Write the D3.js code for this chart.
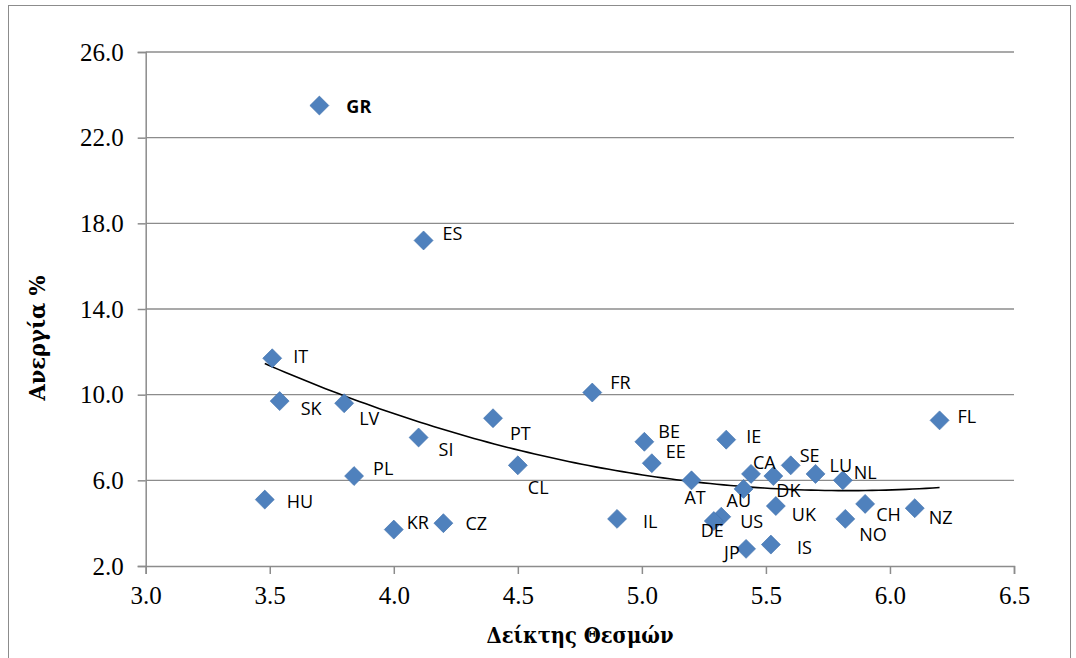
<!DOCTYPE html>
<html>
<head>
<meta charset="utf-8">
<script src="https://cdn.jsdelivr.net/npm/d3@7"></script>
<style>
html,body{margin:0;padding:0;background:#fff;}
svg{display:block;}
</style>
</head>
<body>
<svg id="chart" width="1076" height="658"></svg>
<script>
// ---- data ----
const countries = ["GR","ES","IT","SK","LV","SI","PT","CL","PL","HU","KR","CZ","FR","IL","BE","EE","IE","AT","CA","AU","DK","SE","LU","NL","UK","US","DE","JP","IS","CH","NO","NZ","FL"];
const institutionIndex = [3.70,4.12,3.51,3.54,3.80,4.10,4.40,4.50,3.84,3.48,4.00,4.20,4.80,4.90,5.01,5.04,5.34,5.20,5.44,5.41,5.53,5.60,5.70,5.81,5.54,5.32,5.29,5.42,5.52,5.90,5.82,6.10,6.20];
const unemployment = [23.5,17.2,11.7,9.7,9.6,8.0,8.9,6.7,6.2,5.1,3.7,4.0,10.1,4.2,7.8,6.8,7.9,6.0,6.3,5.6,6.2,6.7,6.3,6.0,4.8,4.3,4.1,2.8,3.0,4.9,4.2,4.7,8.8];
const xTicks = [3.0,3.5,4.0,4.5,5.0,5.5,6.0,6.5];
const yTicks = [2.0,6.0,10.0,14.0,18.0,22.0,26.0];
const xTitle = "Δείκτης Θεσμών";
const yTitle = "Ανεργία %";
const boldLabels = ["GR"];
// label placement relative to marker (pixels)
const labelOffset = {
  GR:[27,0], ES:[19,-7], IT:[21,-2], SK:[21,7], LV:[15,15], SI:[20,11], PT:[17,15], CL:[10,22],
  PL:[19,-8], HU:[22,1], KR:[13,-8], CZ:[22,0], FR:[18,-11], IL:[26,2], BE:[14,-11], EE:[14,-12],
  IE:[20,-4], AT:[-7,17], CA:[2,-12], AU:[-17,11], DK:[3,14], SE:[9,-10], LU:[14,-9], NL:[11,-8],
  UK:[16,8], US:[19,4], DE:[-13,9], JP:[-22,3], IS:[26,2], CH:[11,10], NO:[14,15], NZ:[14,9], FL:[18,-4]
};

// ---- layout ----
const svg = d3.select("#chart");
const L = 145.7, R = 1014, T = 52, B = 566;
const x = d3.scaleLinear().domain([3.0, 6.5]).range([L, R]);
const y = d3.scaleLinear().domain([2.0, 26.0]).range([B, T]);
const gridColor = "#8c8c8c";
const serif = "'Liberation Serif','Times New Roman',serif";
const titleSerif = "'DejaVu Serif','Liberation Serif',serif";

// outer frame
svg.append("rect").attr("x", 8.5).attr("y", 5.5).attr("width", 1062).attr("height", 660)
  .attr("fill", "#fff").attr("stroke", "#8c8c8c").attr("stroke-width", 1);

// gridlines
svg.append("g").selectAll("line").data(yTicks.filter(d => d > 2)).join("line")
  .attr("x1", L).attr("x2", R).attr("y1", d => y(d)).attr("y2", d => y(d))
  .attr("stroke", gridColor).attr("stroke-width", 1.3);

// axes
const yAxis = svg.append("g").attr("transform", `translate(${L},0)`)
  .call(d3.axisLeft(y).tickValues(yTicks).tickFormat(d3.format(".1f")).tickSize(8).tickPadding(14));
const xAxis = svg.append("g").attr("transform", `translate(0,${B})`)
  .call(d3.axisBottom(x).tickValues(xTicks).tickFormat(d3.format(".1f")).tickSize(8).tickPadding(12));
[xAxis, yAxis].forEach(a => {
  a.select(".domain").attr("stroke", gridColor).attr("stroke-width", 1.5);
  a.selectAll(".tick line").attr("stroke", gridColor).attr("stroke-width", 1.5);
  a.selectAll(".tick text").attr("font-family", serif)
    .attr("font-size", 25).attr("fill", "#000");
});

// trendline: quadratic least squares fit
function polyfit2(xs, ys) {
  let n = xs.length, s = [0,0,0,0,0], t = [0,0,0];
  for (let i = 0; i < n; i++) {
    const xi = xs[i], yi = ys[i];
    let p = 1;
    for (let k = 0; k < 5; k++) { s[k] += p; if (k < 3) t[k] += p * yi; p *= xi; }
  }
  const M = [[s[0],s[1],s[2],t[0]],[s[1],s[2],s[3],t[1]],[s[2],s[3],s[4],t[2]]];
  for (let i = 0; i < 3; i++) {
    for (let j = i + 1; j < 3; j++) {
      const f = M[j][i] / M[i][i];
      for (let k = i; k < 4; k++) M[j][k] -= f * M[i][k];
    }
  }
  const c = [0,0,0];
  for (let i = 2; i >= 0; i--) {
    let v = M[i][3];
    for (let k = i + 1; k < 3; k++) v -= M[i][k] * c[k];
    c[i] = v / M[i][i];
  }
  return c;
}
const coef = polyfit2(institutionIndex, unemployment);
const [xmin, xmax] = d3.extent(institutionIndex);
const trendX = d3.range(0, 101).map(i => xmin + (xmax - xmin) * i / 100);
svg.append("path").datum(trendX)
  .attr("d", d3.line().x(d => x(d)).y(d => y(coef[0] + coef[1] * d + coef[2] * d * d)))
  .attr("fill", "none").attr("stroke", "#000").attr("stroke-width", 1.6);

// points
const pts = countries.map((c, i) => ({c, xv: institutionIndex[i], yv: unemployment[i]}));
svg.append("g").selectAll("path").data(pts).join("path")
  .attr("transform", d => `translate(${x(d.xv)},${y(d.yv)}) rotate(45)`)
  .attr("d", d3.symbol().type(d3.symbolSquare).size(180))
  .attr("fill", "#4f81bd").attr("stroke", "#3f71ad").attr("stroke-width", 0.6);

// labels
svg.append("g").selectAll("text").data(pts).join("text")
  .attr("x", d => x(d.xv) + labelOffset[d.c][0])
  .attr("y", d => y(d.yv) + labelOffset[d.c][1])
  .attr("dominant-baseline", "central")
  .attr("font-family", "'Open Sans','Liberation Sans',sans-serif")
  .attr("font-size", 18)
  .attr("font-weight", d => boldLabels.includes(d.c) ? "bold" : "normal")
  .attr("fill", "#000")
  .text(d => d.c);

// axis titles
svg.append("text").attr("x", 580).attr("y", 635).attr("text-anchor", "middle")
  .attr("dominant-baseline", "central")
  .attr("font-family", titleSerif)
  .attr("font-size", 22).attr("font-weight", "bold")
  .attr("textLength", 187).attr("lengthAdjust", "spacingAndGlyphs").text(xTitle);
svg.append("text").attr("transform", "translate(37,338) rotate(-90)").attr("text-anchor", "middle")
  .attr("dominant-baseline", "central")
  .attr("font-family", titleSerif)
  .attr("font-size", 22).attr("font-weight", "bold")
  .attr("textLength", 125).attr("lengthAdjust", "spacingAndGlyphs").text(yTitle);
</script>
</body>
</html>
